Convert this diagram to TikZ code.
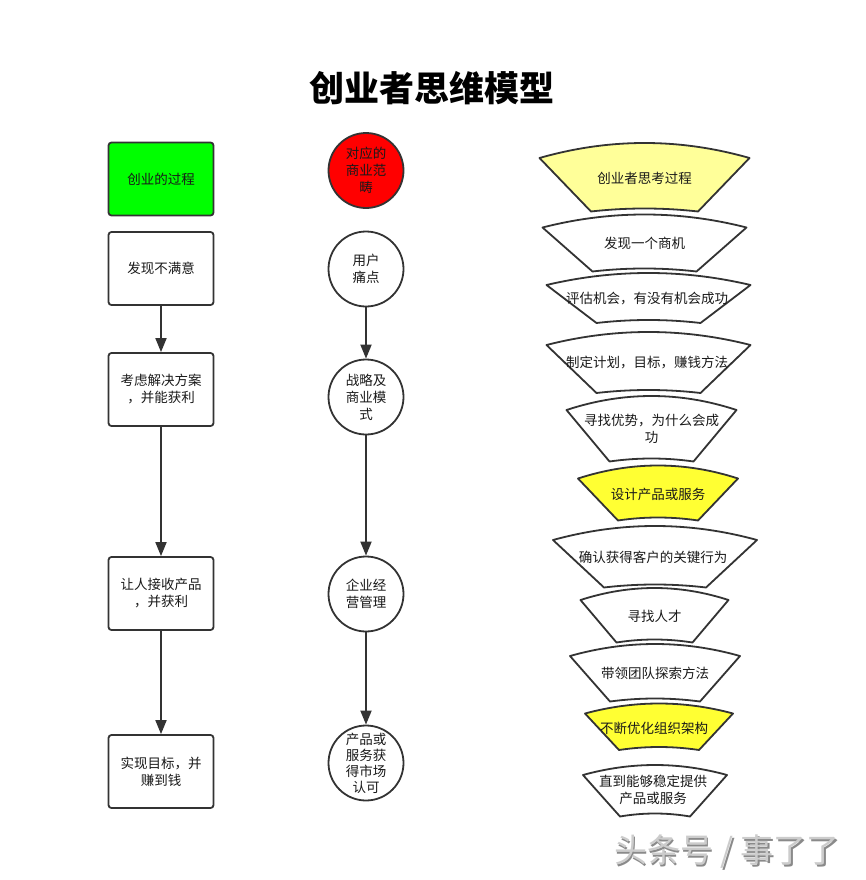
\documentclass[tikz,border=0pt]{standalone}
\usepackage{fontspec}
\setmainfont{Noto Sans CJK SC}
\usetikzlibrary{arrows.meta}
\definecolor{strokec}{HTML}{333333}
\definecolor{paleyellow}{HTML}{FFFF99}
\definecolor{brightyellow}{HTML}{FFFF33}
\definecolor{brightgreen}{HTML}{00FF00}
\definecolor{brightred}{HTML}{FF0000}
\definecolor{wmlight}{HTML}{CCCCCC}
\definecolor{wmdark}{HTML}{8A8A8A}
\newcommand\myfan[8]{%
  \draw[fanstyle, fill=#1] ({#2-#3},#4) .. controls ({#2-#3/3},{#4-4*#5/3}) and ({#2+#3/3},{#4-4*#5/3}) .. ({#2+#3},#4)
    -- ({#2+#6},#7) .. controls ({#2+#6/3},{#7-4*#8/3}) and ({#2-#6/3},{#7-4*#8/3}) .. ({#2-#6},#7) -- cycle;}
\tikzset{
  base/.style={font=\fontsize{13.5}{17}\selectfont, text=black!90, align=center},
  fanstyle/.style={draw=strokec, line width=1.8pt, line join=round},
  fantext/.style={base, inner sep=0pt},
  rectbox/.style={base, draw=strokec, line width=1.8pt, rounded corners=3pt, minimum width=105pt, minimum height=73pt, inner sep=0pt},
  circbox/.style={base, draw=strokec, line width=1.8pt, circle, minimum size=75pt, inner sep=0pt},
  flow/.style={draw=strokec, line width=1.8pt, -{Triangle[length=14pt,width=11pt]}}
}
\begin{document}
\begin{tikzpicture}[x=1pt,y=-1pt]
\useasboundingbox (0,0) rectangle (865,880);
\fill[white] (0,0) rectangle (865,880);

\node[font=\bfseries\fontsize{35}{40}\selectfont] (title) at (432,88) {创业者思维模型};

% left column
\node[rectbox, fill=brightgreen] (r1) at (161,179) {创业的过程};
\node[rectbox] (r2) at (161,268.5) {发现不满意};
\node[rectbox] (r3) at (161,389.5) {考虑解决方案\\，并能获利};
\node[rectbox] (r4) at (161,593.5) {让人接收产品\\，并获利};
\node[rectbox] (r5) at (161,771.5) {实现目标，并\\赚到钱};
\draw[flow] (r2) -- (r3);
\draw[flow] (r3) -- (r4);
\draw[flow] (r4) -- (r5);

% middle column
\node[circbox, fill=brightred] (c1) at (366,170.5) {对应的\\商业范\\畴};
\node[circbox] (c2) at (366,269) {用户\\痛点};
\node[circbox] (c3) at (366,397) {战略及\\商业模\\式};
\node[circbox] (c4) at (366,594) {企业经\\营管理};
\node[circbox, font=\fontsize{13.5}{16}\selectfont] (c5) at (366,763) {产品或\\服务获\\得市场\\认可};
\draw[flow] (c2) -- (c3);
\draw[flow] (c3) -- (c4);
\draw[flow] (c4) -- (c5);

% right column
\myfan{paleyellow}{644.5}{105}{158}{15}{53.5}{211.5}{3}
\node[fantext] (f1) at (644.5,178) {创业者思考过程};
\myfan{white}{644.5}{102}{227.5}{13}{52}{271.5}{3}
\node[fantext] (f2) at (644.5,243) {发现一个商机};
\myfan{white}{648.5}{102}{285}{12}{52}{323}{3}
\node[fantext] (f3) at (647,299) {评估机会，有没有机会成功};
\myfan{white}{648.5}{102}{345}{13}{52}{393}{3}
\node[fantext] (f4) at (647,363) {制定计划，目标，赚钱方法};
\myfan{white}{651.5}{85}{410}{14}{42}{461.5}{3}
\node[fantext] (f5) at (651.5,428.5) {寻找优势，为什么会成\\功};
\myfan{brightyellow}{658}{80}{478.5}{13}{40}{520.5}{3}
\node[fantext] (f6) at (658,494) {设计产品或服务};
\myfan{white}{655}{102}{540}{14}{51}{587.5}{3}
\node[fantext] (f7) at (653,557) {确认获得客户的关键行为};
\myfan{white}{654.5}{74}{600}{12}{38}{642.5}{3}
\node[fantext] (f8) at (654.5,616) {寻找人才};
\myfan{white}{655}{85}{656}{12}{45}{701.5}{3}
\node[fantext] (f9) at (655,673) {带领团队探索方法};
\myfan{brightyellow}{659}{74}{713.5}{10}{40}{750}{3}
\node[fantext] (f10) at (654,728) {不断优化组织架构};
\myfan{white}{655}{72}{775}{10}{35}{816.5}{3}
\node[fantext] (f11) at (653,790) {直到能够稳定提供\\产品或服务};

% watermark
\node[font=\fontsize{33}{36}\selectfont, text=wmdark] (wmshadow) at (728.5,853.5) {头条号 / 事了了};
\node[font=\fontsize{33}{36}\selectfont, text=wmlight] (wm) at (727,852) {头条号 / 事了了};
\end{tikzpicture}
\end{document}
